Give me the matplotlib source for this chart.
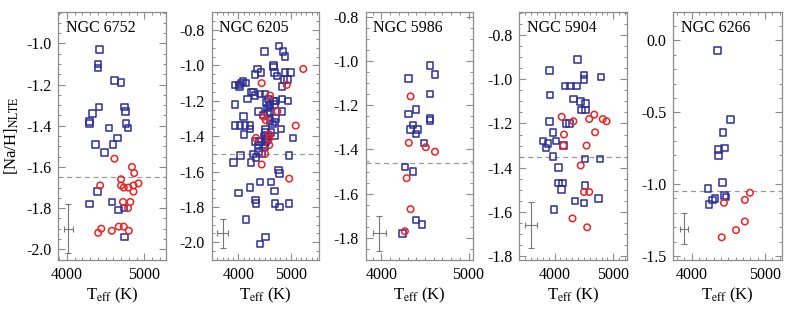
import matplotlib
matplotlib.use("Agg")
import matplotlib.pyplot as plt
from matplotlib.ticker import MultipleLocator, FormatStrFormatter

plt.rcParams['font.family'] = ['Liberation Serif', 'DejaVu Serif']
plt.rcParams['mathtext.fontset'] = 'stix'
plt.rcParams['axes.unicode_minus'] = False

# ---------------- data ----------------
names = ["NGC 6752", "NGC 6205", "NGC 5986", "NGC 5904", "NGC 6266"]

# NGC 6752
p1_blue_T = [4420, 4400, 4400, 4615, 4700, 4415, 4330, 4290, 4290, 4745, 4760, 4765, 4790, 4545,
             4655, 4595, 4370, 4485, 4395, 4290, 4580, 4670, 4735, 4745]
p1_blue_na = [-1.03, -1.10, -1.12, -1.18, -1.19, -1.31, -1.34, -1.38, -1.39, -1.31, -1.33, -1.39, -1.41, -1.41,
              -1.46, -1.49, -1.49, -1.53, -1.72, -1.78, -1.77, -1.81, -1.80, -1.94]
p1_red_T = [4615, 4840, 4870, 4430, 4700, 4700, 4735, 4795, 4860, 4925, 4860, 4725, 4820, 4790,
            4405, 4445, 4580, 4670, 4735, 4800]
p1_red_na = [-1.56, -1.60, -1.63, -1.69, -1.66, -1.69, -1.70, -1.70, -1.69, -1.68, -1.72, -1.77, -1.77, -1.80,
             -1.92, -1.90, -1.91, -1.89, -1.89, -1.91]

# NGC 6205
p2_blue_T = [4780, 4500, 4850, 4890, 4670, 4670, 4365, 4430, 4690, 4890, 5000, 4320, 4735, 4875, 4935,
             4085, 4050, 4145, 3935, 4015, 4020, 4830, 4255, 4290, 4415, 4510, 4320, 4170, 4830, 4580,
             4945, 4720, 4670, 4540, 3935, 4700, 4605, 4585, 4555, 4380, 4605, 4835, 4560, 4480, 4095,
             4705, 4605, 4690, 4655, 3935, 4030, 4125, 4225, 4225, 4815, 4520, 4625, 4510, 4110, 4490,
             4575, 4690, 4520, 5040, 4555, 4320, 4400, 4520, 4380, 4480, 4510, 4380, 4290, 4450, 4045,
             4970, 4340, 3905, 4240, 4770, 4785, 4415, 4620, 4225, 4690, 4000, 4330, 4335, 4700, 4970,
             4790, 4145, 4520, 4415]
p2_blue_na = [-0.89, -0.92, -0.92, -0.95, -1.00, -1.01, -1.02, -1.04, -1.04, -1.04, -1.04, -1.05, -1.06, -1.08, -1.08,
              -1.09, -1.10, -1.10, -1.11, -1.11, -1.12, -1.12, -1.15, -1.15, -1.16, -1.16, -1.17, -1.19, -1.19, -1.19,
              -1.20, -1.20, -1.20, -1.21, -1.22, -1.22, -1.22, -1.23, -1.24, -1.26, -1.26, -1.26, -1.27, -1.28, -1.29,
              -1.30, -1.31, -1.32, -1.33, -1.34, -1.34, -1.34, -1.34, -1.36, -1.36, -1.36, -1.38, -1.38, -1.39, -1.40,
              -1.40, -1.40, -1.41, -1.41, -1.42, -1.43, -1.43, -1.43, -1.45, -1.45, -1.46, -1.49, -1.50, -1.50, -1.51,
              -1.51, -1.52, -1.55, -1.55, -1.59, -1.61, -1.66, -1.66, -1.69, -1.71, -1.72, -1.76, -1.78, -1.78, -1.78,
              -1.80, -1.87, -1.97, -2.01]
p2_red_T = [5240, 4445, 4925, 4605, 4745, 4480, 4525, 5095, 4590, 4335, 4590, 4590, 4510, 4445, 4970]
p2_red_na = [-1.02, -1.10, -1.11, -1.17, -1.26, -1.29, -1.31, -1.34, -1.39, -1.41, -1.41, -1.45, -1.50, -1.56, -1.64]

# NGC 5986
p3_blue_T = [4560, 4615, 4310, 4560, 4395, 4310, 4560, 4560, 4365, 4335, 4415, 4395, 4490, 4270, 4365,
             4395, 4465, 4240]
p3_blue_na = [-1.02, -1.06, -1.08, -1.15, -1.22, -1.24, -1.26, -1.27, -1.29, -1.31, -1.31, -1.33, -1.37, -1.48, -1.50,
              -1.72, -1.74, -1.78]
p3_red_T = [4335, 4315, 4510, 4615, 4290, 4335, 4270]
p3_red_na = [-1.16, -1.37, -1.39, -1.41, -1.53, -1.67, -1.77]

# NGC 5904
p4_blue_T = [4390, 3910, 4505, 4500, 4790, 4175, 4275, 4375, 3920, 4320, 4445, 4530, 4460, 4530, 3910,
             4195, 4250, 3975, 4025, 3805, 3890, 3850, 3975, 4515, 4775, 4065, 4065, 4135, 4120, 4515,
             4345, 4500, 4745, 3990, 4150]
p4_blue_na = [-0.91, -0.96, -0.98, -1.00, -0.99, -1.03, -1.03, -1.03, -1.07, -1.09, -1.10, -1.11, -1.14, -1.14, -1.19,
              -1.20, -1.20, -1.24, -1.28, -1.28, -1.29, -1.31, -1.35, -1.36, -1.36, -1.40, -1.47, -1.47, -1.50, -1.48,
              -1.55, -1.56, -1.54, -1.59, -1.30]
p4_red_T = [4120, 4320, 4590, 4675, 4820, 4885, 4160, 4690, 4150, 4545, 4445, 4500, 4590, 4305, 4555]
p4_red_na = [-1.17, -1.19, -1.18, -1.16, -1.18, -1.19, -1.25, -1.24, -1.30, -1.30, -1.39, -1.51, -1.51, -1.63, -1.67]

# NGC 6266
p5_blue_T = [4355, 4530, 4425, 4445, 4365, 4365, 4420, 4220, 4445, 4470, 4320, 4285, 4235]
p5_blue_na = [-0.07, -0.55, -0.64, -0.75, -0.76, -0.80, -0.99, -1.03, -1.08, -1.09, -1.10, -1.11, -1.14]
p5_red_T = [4795, 4725, 4440, 4725, 4605, 4410]
p5_red_na = [-1.06, -1.11, -1.13, -1.26, -1.32, -1.37]

blue_T = [p1_blue_T, p2_blue_T, p3_blue_T, p4_blue_T, p5_blue_T]
blue_na = [p1_blue_na, p2_blue_na, p3_blue_na, p4_blue_na, p5_blue_na]
red_T = [p1_red_T, p2_red_T, p3_red_T, p4_red_T, p5_red_T]
red_na = [p1_red_na, p2_red_na, p3_red_na, p4_red_na, p5_red_na]

mean_na = [-1.65, -1.50, -1.46, -1.35, -1.05]

err_T = [4020, 3700, 3975, 3600, 3895]
err_na = [-1.90, -1.95, -1.78, -1.66, -1.31]
err_xerr = [60, 110, 75, 108, 58]
err_yerr = [0.12, 0.08, 0.08, 0.105, 0.11]

xlims = [(3890, 5280), (3490, 5540), (3820, 5055), (3398, 5239), (3750, 5236)]
ylims = [(-2.052, -0.846), (-2.10, -0.696), (-1.90, -0.777), (-1.818, -0.694), (-1.528, 0.20)]
ymajor = [0.2, 0.2, 0.2, 0.2, 0.5]
yminor = [0.05, 0.05, 0.05, 0.05, 0.1]

# ---------------- figure ----------------
W, H = 797, 310
fig = plt.figure(figsize=(W / 100, H / 100), dpi=100)
lefts = [58.3, 211.7, 365.7, 519.3, 673.3]
widths = [107.7, 107.3, 107.6, 108.0, 109.0]
top, bottom = 11.7, 260.0

frame_col = '#8c8c8c'
blue = '#2e2e96'
red = '#ee2222'

for i in range(5):
    ax = fig.add_axes([lefts[i] / W, (H - bottom) / H, widths[i] / W, (bottom - top) / H])
    ax.scatter(blue_T[i], blue_na[i], marker='s', s=22, facecolors='none',
               edgecolors=blue, linewidths=1.1, zorder=3)
    ax.scatter(red_T[i], red_na[i], marker='o', s=22, facecolors='none',
               edgecolors=red, linewidths=1.1, zorder=4)
    ax.axhline(mean_na[i], color='#999999', ls=(0, (4, 3)), lw=0.9, zorder=1)
    ax.errorbar(err_T[i], err_na[i], xerr=err_xerr[i], yerr=err_yerr[i], fmt='none',
                ecolor='#777777', elinewidth=0.8, capsize=2.5, capthick=0.8)
    ax.set_xlim(*xlims[i])
    ax.set_ylim(*ylims[i])
    ax.xaxis.set_major_locator(MultipleLocator(1000))
    ax.xaxis.set_minor_locator(MultipleLocator(100))
    ax.yaxis.set_major_locator(MultipleLocator(ymajor[i]))
    ax.yaxis.set_minor_locator(MultipleLocator(yminor[i]))
    ax.yaxis.set_major_formatter(FormatStrFormatter('%.1f'))
    ax.tick_params(which='both', direction='in', top=True, right=True, color=frame_col,
                   labelsize=11.5, labelcolor='black', pad=5)
    ax.tick_params(which='major', length=5, width=0.8)
    ax.tick_params(which='minor', length=2.5, width=0.7)
    for sp in ax.spines.values():
        sp.set_color(frame_col)
        sp.set_linewidth(0.9)
    ax.text(0.07, 0.965, names[i], transform=ax.transAxes, fontsize=11.5,
            va='top', ha='left')
    ax.set_xlabel(r'T$_{\rm eff}$ (K)', fontsize=12, labelpad=2)
    if i == 0:
        ax.set_ylabel(r'[Na/H]$_{\rm NLTE}$', fontsize=12, labelpad=4)

fig.savefig('out.png', dpi=100)
